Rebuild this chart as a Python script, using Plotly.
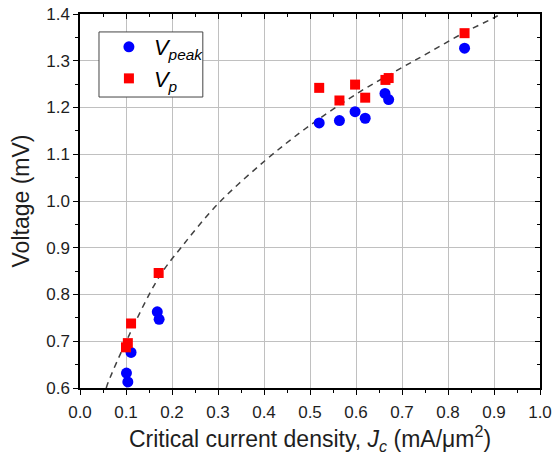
import plotly.graph_objects as go

# Data
jc_peak = [0.101, 0.104, 0.111, 0.168, 0.172, 0.520, 0.564, 0.598, 0.620, 0.663, 0.671, 0.836]
v_peak = [0.632, 0.613, 0.676, 0.763, 0.747, 1.167, 1.172, 1.191, 1.177, 1.230, 1.217, 1.327]

jc_p = [0.100, 0.104, 0.111, 0.171, 0.520, 0.564, 0.598, 0.620, 0.664, 0.671, 0.836]
v_p = [0.687, 0.696, 0.738, 0.846, 1.242, 1.215, 1.249, 1.221, 1.259, 1.263, 1.359]

# Dashed guide curve
fit_x = [0.057, 0.0616, 0.1015, 0.171, 0.221, 0.301, 0.402, 0.489, 0.609, 0.694, 0.761, 0.833, 0.898, 0.915]
fit_y = [0.600, 0.613, 0.702, 0.836, 0.902, 0.995, 1.086, 1.154, 1.234, 1.282, 1.319, 1.359, 1.391, 1.400]

x_ticks = [0.0, 0.1, 0.2, 0.3, 0.4, 0.5, 0.6, 0.7, 0.8, 0.9, 1.0]
y_ticks = [0.6, 0.7, 0.8, 0.9, 1.0, 1.1, 1.2, 1.3, 1.4]

FONT = "Liberation Sans, Arial, sans-serif"
TXT = "#1e1e1e"

fig = go.Figure()
fig.add_trace(go.Scatter(x=fit_x, y=fit_y, mode="lines",
                         line=dict(color="#404040", width=1.5, dash="6px,5px", shape="spline", smoothing=1.0),
                         showlegend=False, hoverinfo="skip"))
fig.add_trace(go.Scatter(x=jc_peak, y=v_peak, mode="markers", name="<i>V<sub>peak</sub></i>",
                         marker=dict(symbol="circle", size=11, color="#0000ff", line=dict(width=0))))
fig.add_trace(go.Scatter(x=jc_p, y=v_p, mode="markers", name="<i>V<sub>p</sub></i>",
                         marker=dict(symbol="square", size=10, color="#ff0000", line=dict(width=0))))

axis_common = dict(showline=True, linecolor="black", linewidth=1.5, showgrid=True, gridcolor="#c0c0c0",
                   gridwidth=1, zeroline=False, ticks="outside", ticklen=5, tickwidth=1.2, tickcolor="black",
                   tickfont=dict(family=FONT, size=17, color=TXT), automargin=False)

mirror_common = dict(showticklabels=False, showline=True, linecolor="black", linewidth=1.5, showgrid=False,
                     zeroline=False, ticks="inside", ticklen=5, tickwidth=1.2, tickcolor="black",
                     automargin=False, minor=dict(dtick=0.05, ticks="inside", ticklen=3, tickcolor="black"))

fig.update_layout(
    width=554, height=460,
    margin=dict(l=80, r=14, t=14, b=72, autoexpand=False),
    paper_bgcolor="white", plot_bgcolor="white",
    font=dict(family=FONT, color=TXT),
    xaxis=dict(range=[0, 1.0], tickvals=x_ticks, ticktext=[f"{v:.1f}" for v in x_ticks],
               minor=dict(dtick=0.05, ticks="outside", ticklen=3, tickcolor="black", showgrid=False),
               ticklabelstandoff=3,
               title=dict(text="Critical current density, <i>J<sub>c</sub></i> (mA/μm<sup>2</sup>)",
                          font=dict(family=FONT, size=23, color=TXT), standoff=8),
               **axis_common),
    yaxis=dict(range=[0.6, 1.4], tickvals=y_ticks, ticktext=[f"{v:.1f}" for v in y_ticks],
               minor=dict(dtick=0.05, ticks="outside", ticklen=3, tickcolor="black", showgrid=False),
               title=dict(text="Voltage (mV)", font=dict(family=FONT, size=23, color=TXT), standoff=10),
               **axis_common),
    xaxis2=dict(overlaying="x", side="top", range=[0, 1.0], tickvals=x_ticks, **mirror_common),
    yaxis2=dict(overlaying="y", side="right", range=[0.6, 1.4], tickvals=y_ticks, **mirror_common),
    legend=dict(x=0.052, y=0.968, xanchor="left", yanchor="top", bgcolor="rgba(0,0,0,0)",
                borderwidth=0, font=dict(family=FONT, size=22, color="black"),
                itemwidth=40, tracegroupgap=4),
    shapes=[dict(type="rect", xref="paper", yref="paper", x0=0.0413, x1=0.267, y0=0.778, y1=0.952,
                 line=dict(color="#444444", width=1), fillcolor="white", layer="above")],
)
# dummy trace to activate the mirrored axes
fig.add_trace(go.Scatter(x=[None], y=[None], xaxis="x2", yaxis="y2", showlegend=False, hoverinfo="skip"))

fig.write_html("out.html", config={"displayModeBar": False},
               post_script="document.body.style.margin='0';")
